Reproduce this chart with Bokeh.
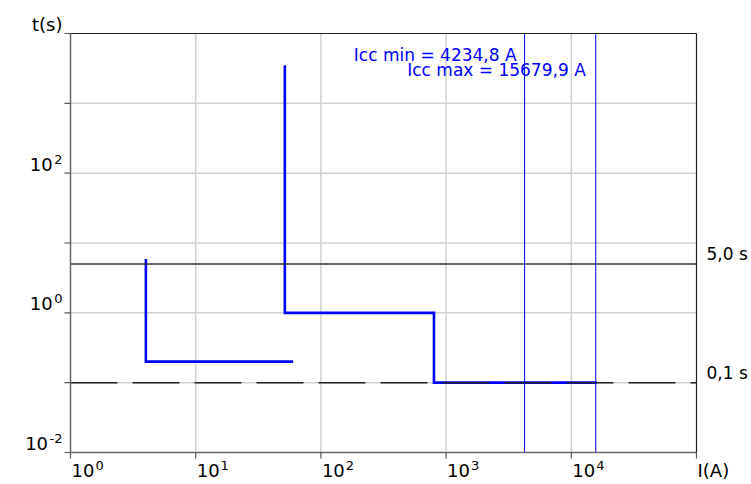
import math
from bokeh.plotting import figure
from bokeh.core.properties import value
from bokeh.embed import file_html
from bokeh.resources import INLINE

# ---------------- data ----------------
x_ticks = [1, 10, 100, 1000, 10000, 100000]
x_tick_base = ["10", "10", "10", "10", "10", "I(A)"]
x_tick_exp = ["0", "1", "2", "3", "4", ""]

y_ticks = [0.01, 0.1, 1, 10, 100, 1000, 10000]
y_label_ticks = [0.01, 1, 100, 10000]
y_tick_base = ["10", "10", "10", "t(s)"]
y_tick_exp = ["-2", "0", "2", ""]

curve1_I = [4.0, 4.0, 60.0]
curve1_t = [5.9, 0.2, 0.2]

curve2_I = [51.5, 51.5, 800.0, 800.0, 16000.0]
curve2_t = [3500.0, 1.0, 1.0, 0.1, 0.1]

time_levels = [5.0, 0.1]
icc_values = [4234.8, 15679.9]
icc_names = ["Icc min", "Icc max"]

# ---------------- style / layout ----------------
FONT = "DejaVu Sans"
BASE_SIZE = 18
EXP_SIZE = 13
W, H = 750, 480
FL, FR, FT, FB = 70, 696, 33, 452   # plot box inside the canvas (pixels)
DY = -7                             # vertical text correction

def fmt(v, nd=1):
    return f"{v:.{nd}f}".replace(".", ",")

def text_w(s, size):
    widths = {"-": 0.361, ",": 0.318, " ": 0.318}
    return sum(widths.get(c, 0.636) for c in s) * size

xl, xr = x_ticks[0], x_ticks[-1]
yb, yt = y_ticks[0], y_ticks[-1]
ppd_x = (FR - FL) / (math.log10(xr) - math.log10(xl))
ppd_y = (FB - FT) / (math.log10(yt) - math.log10(yb))
x_range = (10 ** (math.log10(xl) - FL / ppd_x), 10 ** (math.log10(xr) + (W - FR) / ppd_x))
y_range = (10 ** (math.log10(yb) - (H - FB) / ppd_y), 10 ** (math.log10(yt) + FT / ppd_y))

p = figure(width=W, height=H, x_axis_type="log", y_axis_type="log",
           x_range=x_range, y_range=y_range, x_axis_location=None, y_axis_location=None,
           min_border=0, title=None, output_backend="svg", toolbar_location=None)
p.outline_line_color = None
p.background_fill_color = "white"
p.border_fill_color = "white"
p.xgrid.visible = False
p.ygrid.visible = False

# grid lines (interior decades)
gx = x_ticks[1:-1]
gy = y_ticks[1:-1]
p.segment(x0=gx, y0=[yb] * len(gx), x1=gx, y1=[yt] * len(gx), line_color="#d0d0d0", line_width=1.5)
p.segment(x0=[xl] * len(gy), y0=gy, x1=[xr] * len(gy), y1=gy, line_color="#d0d0d0", line_width=1.5)

# curves
p.line(curve1_I, curve1_t, line_color="#0000ff", line_width=2.6, line_join="miter")
p.line(curve2_I, curve2_t, line_color="#0000ff", line_width=2.6, line_join="miter")

# time reference lines
p.segment(x0=[xl], y0=[time_levels[0]], x1=[xr], y1=[time_levels[0]],
          line_color="#333333", line_width=1.5)
p.segment(x0=[xl], y0=[time_levels[1]], x1=[xr], y1=[time_levels[1]],
          line_color="#222222", line_width=1.5, line_dash="47 15")

# Icc lines
p.segment(x0=icc_values, y0=[yb] * 2, x1=icc_values, y1=[yt] * 2, line_color="#0000ff", line_width=1)

# plot box: left/bottom axes and top/right frame
p.line([xl, xl], [yb, yt], line_color="#666666", line_width=1.5)
p.line([xl, xr], [yb, yb], line_color="#666666", line_width=1.5)
p.line([xl, xr], [yt, yt], line_color="#222222", line_width=1.2)
p.line([xr, xr], [yb, yt], line_color="#222222", line_width=1.2)

# tick marks
p.ray(x=x_ticks, y=[yb] * len(x_ticks), length=6, length_units="screen", angle=-math.pi / 2,
      line_color="#555555", line_width=1.2)
p.ray(x=[xl] * len(y_ticks), y=y_ticks, length=6, length_units="screen", angle=math.pi,
      line_color="#555555", line_width=1.2)

def texts(xs, ys, tx, size, align, xo, yo, color="#000000"):
    if isinstance(yo, list):
        yo = [v + DY for v in yo]
    else:
        yo = yo + DY
    p.text(x=xs, y=ys, text=tx, x_offset=xo, y_offset=yo, text_align=align,
           text_baseline="alphabetic", text_font=value(FONT), text_font_size=f"{size}px",
           text_color=color)

# Icc labels
texts(icc_values, [yt] * 2, [f"{n} = {fmt(v)} A" for n, v in zip(icc_names, icc_values)],
      17, "right", [-8, -10], [28, 43], "#0000ff")

# right labels for time levels
texts([xr] * len(time_levels), time_levels, [f"{fmt(t)} s" for t in time_levels],
      17, "left", 10, -3)

# x tick labels
base_w = text_w("10", BASE_SIZE)
texts(x_ticks, [yb] * len(x_ticks), x_tick_base, BASE_SIZE, "left", 1, 25)
texts(x_ticks, [yb] * len(x_ticks), x_tick_exp, EXP_SIZE, "left", 1 + base_w + 1, 20)

# y tick labels
yb_off = [-8 - (text_w(e, EXP_SIZE) + 1.5 if e else 0) for e in y_tick_exp]
texts([xl] * len(y_label_ticks), y_label_ticks, y_tick_base, BASE_SIZE, "right", yb_off, -2)
texts([xl] * len(y_label_ticks), y_label_ticks, y_tick_exp, EXP_SIZE, "right", -8, -7)

open("out.html", "w").write(file_html(p, INLINE))
